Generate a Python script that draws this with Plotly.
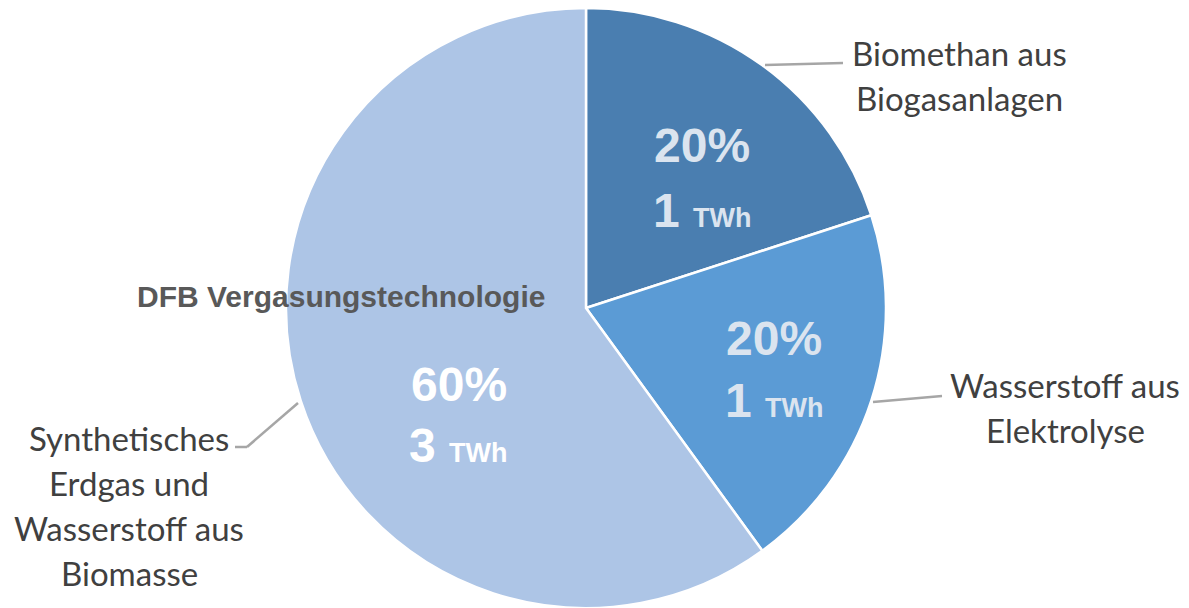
import plotly.graph_objects as go

# Erzeugung von erneuerbarem Gas
labels = ["Biomethan aus<br>Biogasanlagen",
          "Wasserstoff aus<br>Elektrolyse",
          "Synthetisches<br>Erdgas und<br>Wasserstoff aus<br>Biomasse"]
energy_twh = [1, 1, 3]
colors = ["#4a7eb0", "#5b9bd5", "#adc5e6"]
group_label = "DFB Vergasungstechnologie"

W, H = 1189, 608
total = sum(energy_twh)
shares = [round(100 * v / total) for v in energy_twh]


def px(x, y):
    return x / W, 1 - y / H


def note(cx, cy, text, font):
    x, y = px(cx, cy)
    return dict(x=x, y=y, xref="paper", yref="paper", showarrow=False,
                xanchor="center", yanchor="middle", text=text, font=font)


fig = go.Figure(go.Pie(
    labels=labels,
    values=energy_twh,
    sort=False,
    direction="clockwise",
    rotation=0,
    marker=dict(colors=colors, line=dict(color="white", width=2.5)),
    textinfo="none",
    hoverinfo="label+value+percent",
    showlegend=False,
    domain=dict(x=[286 / W, 886 / W], y=[0, 600 / H]),
))

annotations = []

# value labels inside the slices
value_pos = [(702, 146, 210, "#dbe4ef"), (774, 338, 400, "#dbe4ef"), (459, 384, 445, "#ffffff")]
for (cx, y1, y2, col), pct, v in zip(value_pos, shares, energy_twh):
    f = dict(family="Liberation Sans", size=48, color=col)
    annotations.append(note(cx, y1, f"<b>{pct}%</b>", f))
    annotations.append(note(cx, y2, f"<b>{v} <span style='font-size:27px'>TWh</span></b>", f))

# category labels outside the pie, one annotation per line
label_pos = [(959, 53), (1065, 385), (129, 438)]
line_gap = 45
for (cx, cy), lab in zip(label_pos, labels):
    for i, part in enumerate(lab.split("<br>")):
        annotations.append(note(cx, cy + i * line_gap, part,
                                dict(family="Lato", size=33, color="#404040")))

annotations.append(note(341, 296, f"<b>{group_label}</b>",
                        dict(family="Liberation Sans", size=30, color="#595959")))

# leader lines
leaders = [[(765, 65), (843, 63)],
           [(873, 402), (942, 396)],
           [(298, 403), (247, 447), (235, 447)]]
shapes = []
for pts in leaders:
    for (x0, y0), (x1, y1) in zip(pts[:-1], pts[1:]):
        a0, b0 = px(x0, y0)
        a1, b1 = px(x1, y1)
        shapes.append(dict(type="line", xref="paper", yref="paper",
                           x0=a0, y0=b0, x1=a1, y1=b1,
                           line=dict(color="#a6a6a6", width=2.5)))

fig.update_layout(
    width=W, height=H,
    margin=dict(l=0, r=0, t=0, b=0),
    paper_bgcolor="white", plot_bgcolor="white",
    annotations=annotations,
    shapes=shapes,
)

fig.write_html("out.html")
